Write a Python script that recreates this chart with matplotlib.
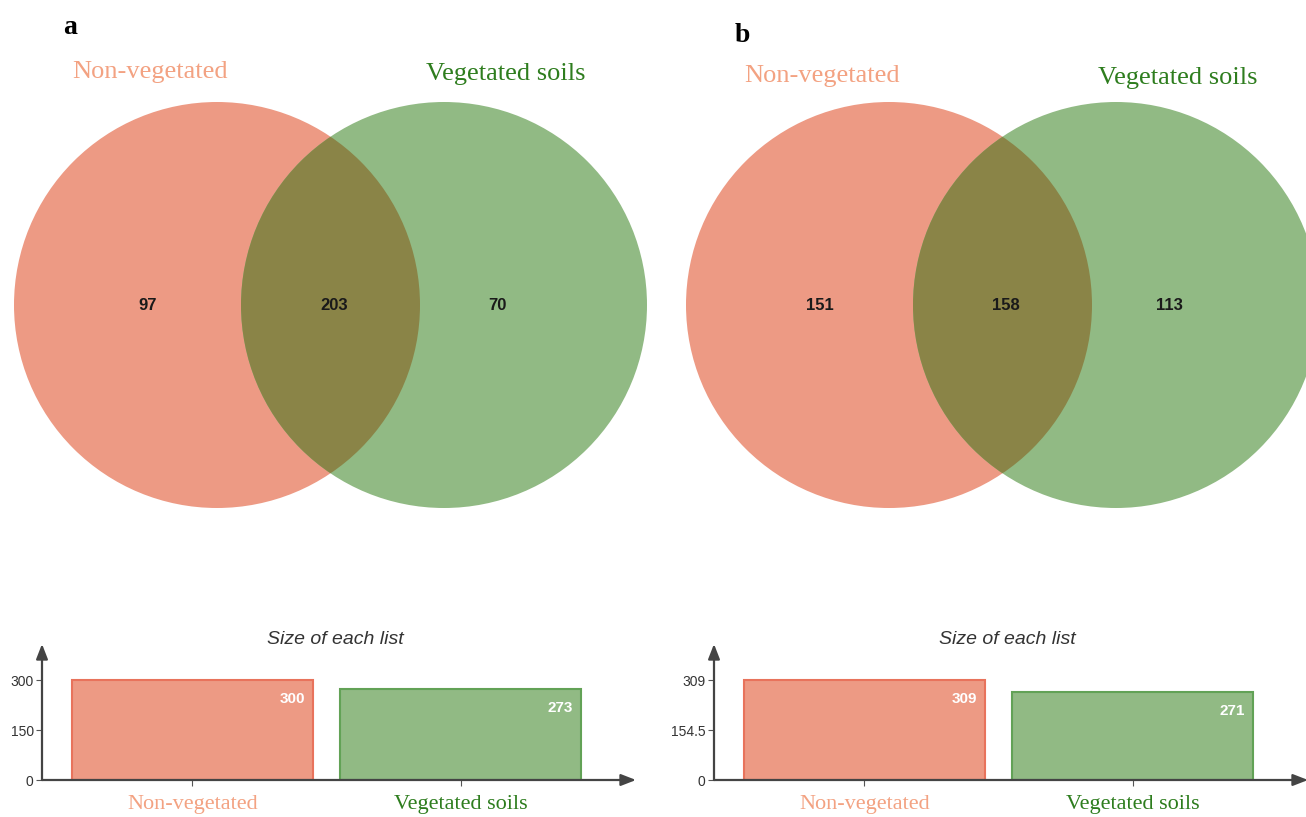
import matplotlib.pyplot as plt
from matplotlib.patches import Circle

# Venn counts: only non-vegetated, shared, only vegetated
groups = ["Non-vegetated", "Vegetated soils"]
venn_a = [97, 203, 70]
venn_b = [151, 158, 113]
# list sizes shown in the bar panels
sizes_a = [300, 273]
sizes_b = [309, 271]
ticks_a = [0, 150, 300]
ticks_b = [0, 154.5, 309]
tick_labels_b = ["0", "154.5", "309"]

salmon = "#ED9A84"
green = "#91BA84"
overlap = "#8A8447"
salmon_text = "#F3A282"
green_text = "#2E7D1E"

W, H = 1306, 817
fig = plt.figure(figsize=(W / 100, H / 100), dpi=100)

# overlay axes in pixel units for the Venn part
ov = fig.add_axes([0, 0, 1, 1])
ov.set_xlim(0, W)
ov.set_ylim(H, 0)
ov.axis("off")


def venn(x0, counts, tag, tag_y, lab_y):
    r = 203
    cl, cr, cy = x0 + 217, x0 + 444, 305
    left = Circle((cl, cy), r, facecolor=salmon, edgecolor="none")
    right = Circle((cr, cy), r, facecolor=green, edgecolor="none")
    ov.add_patch(left)
    ov.add_patch(right)
    mid = Circle((cr, cy), r, facecolor=overlap, edgecolor="none")
    ov.add_patch(mid)
    mid.set_clip_path(left)
    for xx, n in zip([x0 + 148, x0 + 334, x0 + 497], counts):
        ov.text(xx, cy, str(n), ha="center", va="center", fontsize=12,
                fontweight="bold", family="Liberation Sans", color="#1a1a1a")
    ov.text(x0 + 150, lab_y, groups[0], ha="center", va="center", fontsize=19,
            family="Liberation Serif", color=salmon_text)
    ov.text(x0 + 506, lab_y + 2, groups[1], ha="center", va="center", fontsize=19,
            family="Liberation Serif", color=green_text)
    ov.text(x0 + 70, tag_y, tag, ha="center", va="center", fontsize=20,
            fontweight="bold", family="Liberation Serif")


venn(0, venn_a, "a", 27, 72)
venn(672, venn_b, "b", 35, 76)


def bars(x0, vals, ticks, tlabels):
    # axes: y-axis at x0+42, x-axis at y=780, top at 645, right at x0+635
    ax = fig.add_axes([(x0 + 42) / W, (H - 780) / H, 594 / W, 136 / H])
    ax.patch.set_alpha(0)
    ax.set_ylim(0, ticks[-1] * 1.36)
    ax.set_xlim(-0.56, 1.653)
    b = ax.bar([0, 1], vals, width=0.896, color=[salmon, green],
               edgecolor=["#E8735C", "#62A256"], linewidth=1.5)
    for rect, v in zip(b, vals):
        ax.annotate(str(v), (rect.get_x() + rect.get_width(), v),
                    xytext=(-5.5, -13.5), textcoords="offset points",
                    ha="right", va="center", color="white", fontsize=11,
                    fontweight="bold", family="Liberation Sans")
    ax.set_yticks(ticks)
    ax.set_yticklabels(tlabels, fontsize=10, family="Liberation Sans", color="#333333")
    ax.set_xticks([0, 1])
    ax.set_xticklabels(["", ""])
    ax.tick_params(axis="both", length=4, width=0.8, color="#555555", pad=2)
    for s in ["top", "right", "left", "bottom"]:
        ax.spines[s].set_visible(False)
    # arrowed axes
    ax.annotate("", xy=(1.0, 0), xytext=(0, 0), xycoords="axes fraction",
                arrowprops=dict(arrowstyle="-|>,head_length=0.9,head_width=0.35",
                                color="#444444", lw=1.6, shrinkA=0, shrinkB=0))
    ax.annotate("", xy=(0, 1.0), xytext=(0, 0), xycoords="axes fraction",
                arrowprops=dict(arrowstyle="-|>,head_length=0.9,head_width=0.35",
                                color="#444444", lw=1.6, shrinkA=0, shrinkB=0))
    ax.text(0.493, 1.03, "Size of each list", transform=ax.transAxes, ha="center",
            va="center", fontsize=14, style="italic", family="Liberation Sans",
            color="#333333")
    for xx, name, c in zip([0, 1], groups, [salmon_text, green_text]):
        ax.text(xx, -0.18, name, transform=ax.get_xaxis_transform(), ha="center",
                va="center", fontsize=16, family="Liberation Serif", color=c,
                clip_on=False)


bars(0, sizes_a, ticks_a, [str(t) for t in ticks_a])
bars(672, sizes_b, ticks_b, tick_labels_b)

fig.savefig("out.png", dpi=100)
